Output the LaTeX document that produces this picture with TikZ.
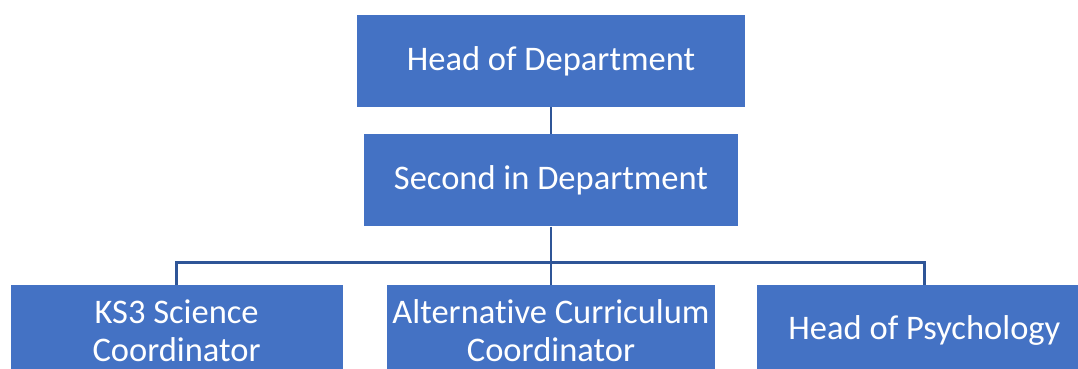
\documentclass[tikz,border=0pt]{standalone}
\usepackage{fontspec}
\setmainfont[Ligatures=NoCommon]{Carlito}
\usetikzlibrary{positioning}
\definecolor{boxblue}{HTML}{4472C4}
\definecolor{lineblue}{HTML}{2F5597}

\begin{document}
\begin{tikzpicture}
	[x=1pt, y=-1pt,
	% STYLES
	% The role style is used to draw each post of the department
	role/.style={rectangle, fill=boxblue, text=white, inner sep=0pt, align=center, minimum height=92pt, font=\fontsize{34.5}{38}\selectfont},
	% The link style is used for the connectors between posts
	link/.style={draw=lineblue, line width=2.5pt}]
	\useasboundingbox (0,0) rectangle (1078,369);
	\clip (0,0) rectangle (1078,369);
	% Draw roles
	\node [role, minimum width=388pt] (head) at (551,61) {Head of Department};
	\node [role, minimum width=374pt, below=27pt of head] (second) {Second in Department};
	\node [role, minimum width=328pt, below=58pt of second] (altcurr) {Alternative Curriculum\\Coordinator};
	\node [role, minimum width=332pt, left=44pt of altcurr] (ksthree) {KS3 Science\\Coordinator};
	\node [role, minimum width=334pt, right=42pt of altcurr] (psych) {Head of Psychology};
	% branch point under the second in department
	\coordinate [below=36pt of second] (bar);
	% Draw the links between roles
	\path[link]
	(head) edge (second)
	(second) edge (bar)
	(bar) edge (altcurr);
	\draw[link] (bar) -| (ksthree);
	\draw[link] (bar) -| (psych);
\end{tikzpicture}
\end{document}
